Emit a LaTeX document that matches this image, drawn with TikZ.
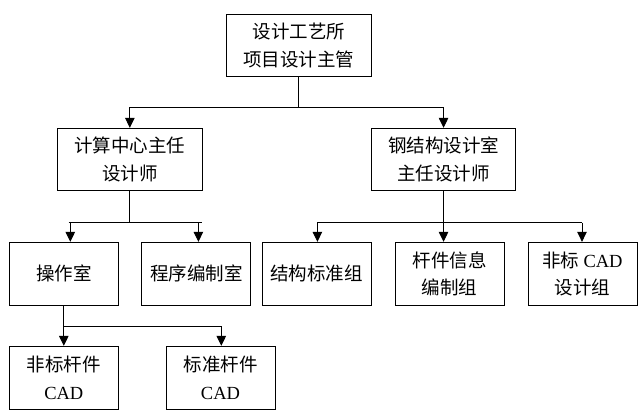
\documentclass[tikz,border=0pt]{standalone}
\usepackage{fontspec}
\setmainfont{Liberation Serif}
\newfontfamily\cjk{Noto Sans CJK SC}
\usetikzlibrary{arrows.meta}
\begin{document}
\begin{tikzpicture}[x=1pt,y=-1pt,
  box/.style={draw, line width=0.9pt, rectangle, inner sep=0pt, align=center,
    font=\fontsize{18.5}{27.5}\selectfont\cjk, minimum height=62pt},
  wbox/.style={box, minimum width=144.4pt},
  nbox/.style={box, minimum width=109pt, minimum height=63pt},
  conn/.style={line width=0.9pt},
  arr/.style={conn, -{Triangle[length=10pt,width=9.5pt]}}]
\useasboundingbox (0,0) rectangle (638,413);
% nodes
\node[wbox] (top) at (298.8,45.3) {设计工艺所\\项目设计主管};
\node[wbox] (m1) at (129.85,159.3) {计算中心主任\\设计师};
\node[wbox] (m2) at (443.55,159.3) {钢结构设计室\\主任设计师};
\node[nbox] (b1) at (63.8,273.8) {操作室};
\node[nbox] (b2) at (196.35,273.8) {程序编制室};
\node[nbox] (b3) at (316.5,273.8) {结构标准组};
\node[nbox] (b4) at (449.5,273.8) {杆件信息\\编制组};
\node[nbox] (b5) at (582.5,273.8) {非标 {\rmfamily CAD}\\设计组};
\node[nbox] (c1) at (63.8,377.8) {非标杆件\\{\rmfamily CAD}};
\node[nbox] (c2) at (220.5,377.8) {标准杆件\\{\rmfamily CAD}};
% junctions
\coordinate (j1) at (298.8,107.3);
\coordinate (j1l) at (129.85,107.3);
\coordinate (j1r) at (443.55,107.3);
\coordinate (j2) at (129.85,222.7);
\coordinate (j2l) at (68.7,222.7);
\coordinate (j2r) at (201.6,222.7);
\coordinate (a21) at (70.3,222.7);
\coordinate (a22) at (198.4,222.7);
\coordinate (j3) at (443.55,222.7);
\coordinate (j3l) at (317.4,222.7);
\coordinate (j3r) at (582,222.7);
\coordinate (j4) at (63.8,326.3);
\coordinate (j4r) at (221.3,326.3);
% connectors
\draw[conn] (top.south) -- (j1);
\draw[conn] (j1l) -- (j1r);
\draw[arr] (j1l) -- (m1.north);
\draw[arr] (j1r) -- (m2.north);
\draw[conn] (m1.south) -- (j2);
\draw[conn] (j2l) -- (j2r);
\draw[arr] (a21) -- (a21 |- b1.north);
\draw[arr] (a22) -- (a22 |- b2.north);
\draw[conn] (m2.south) -- (j3);
\draw[conn] (j3l) -- (j3r);
\draw[arr] (j3l) -- (j3l |- b3.north);
\draw[arr] (j3) -- (j3 |- b4.north);
\draw[arr] (j3r) -- (j3r |- b5.north);
\draw[arr] (b1.south) -- (c1.north);
\draw[conn] (j4) -- (j4r);
\draw[arr] (j4r) -- (j4r |- c2.north);
\end{tikzpicture}
\end{document}
